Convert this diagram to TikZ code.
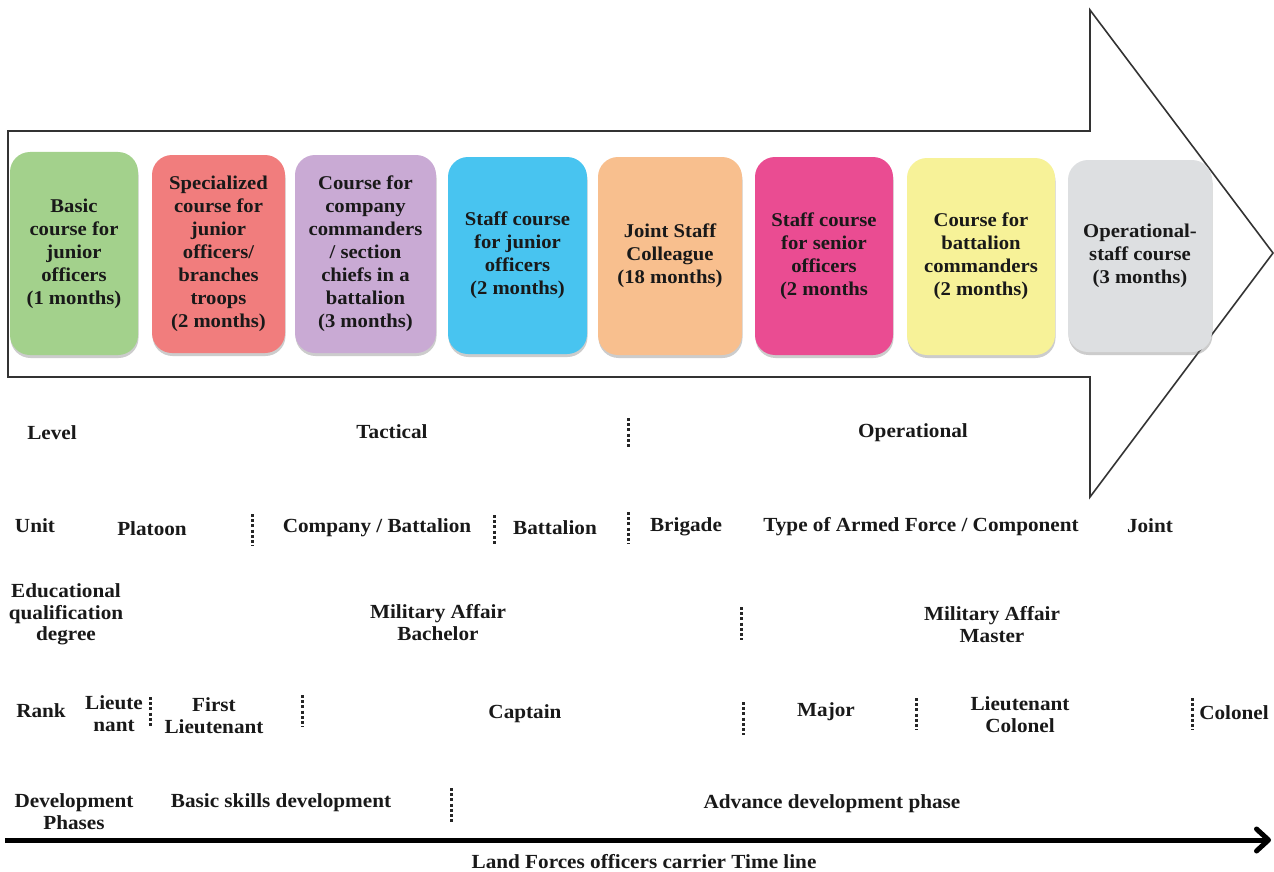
\documentclass[tikz,border=0pt]{standalone}
\usepackage{fontspec}
\setmainfont{Liberation Serif}
\newfontfamily\widefont[FakeStretch=1.06]{Liberation Serif}
\usetikzlibrary{arrows.meta,shadows}
\begin{document}
\begin{tikzpicture}[x=1pt,y=-1pt,
  coursebox/.style={rounded corners=20pt, inner sep=0pt, align=center,
    font=\widefont\bfseries\fontsize{19.5}{23}\selectfont, text=black!90,
    drop shadow={shadow xshift=0.5pt, shadow yshift=-3pt, opacity=0.4}},
  lbl/.style={inner sep=0pt, align=center, font=\widefont\bfseries\fontsize{20}{21.5}\selectfont, text=black!90},
  dotsep/.style={line width=3pt, dash pattern=on 3pt off 2.2pt, black!85},
  bigarrow/.style={draw=black!80, line width=1.6pt, fill=white, line join=miter}
]
\useasboundingbox (0,0) rectangle (1274,872);
\definecolor{cgreen}{RGB}{163,209,140}
\definecolor{cred}{RGB}{241,125,125}
\definecolor{cpurple}{RGB}{201,170,212}
\definecolor{cblue}{RGB}{72,196,240}
\definecolor{corange}{RGB}{248,191,142}
\definecolor{cpink}{RGB}{234,76,146}
\definecolor{cyellow}{RGB}{247,242,152}
\definecolor{cgray}{RGB}{221,223,225}

% big arrow
\draw[bigarrow] (8,131) -- (1090,131) -- (1090,10) -- (1273,253) -- (1090,497) -- (1090,377) -- (8,377) -- cycle;

% course boxes
\node[coursebox, fill=cgreen, minimum width=128pt, minimum height=203pt] (b1) at (74,253.5)
  {Basic\\course for\\junior\\officers\\(1 months)};
\node[coursebox, fill=cred, minimum width=133pt, minimum height=198pt] (b2) at (218.5,254)
  {Specialized\\course for\\junior\\officers/\\branches\\troops\\(2 months)};
\node[coursebox, fill=cpurple, minimum width=141pt, minimum height=198pt] (b3) at (365.5,254)
  {Course for\\company\\commanders\\/ section\\chiefs in a\\battalion\\(3 months)};
\node[coursebox, fill=cblue, minimum width=139pt, minimum height=197pt] (b4) at (517.5,255.5)
  {Staff course\\for junior\\officers\\(2 months)};
\node[coursebox, fill=corange, minimum width=144pt, minimum height=198pt] (b5) at (670,256)
  {Joint Staff\\Colleague\\(18 months)};
\node[coursebox, fill=cpink, minimum width=138pt, minimum height=198pt] (b6) at (824,256)
  {Staff course\\for senior\\officers\\(2 months};
\node[coursebox, fill=cyellow, minimum width=148pt, minimum height=197pt] (b7) at (981,256.5)
  {Course for\\battalion\\commanders\\(2 months)};
\node[coursebox, fill=cgray, minimum width=144pt, minimum height=192pt] (b8) at (1140,256)
  {Operational-\\staff course\\(3 months)};

% Level row
\node[lbl] (lev) at (52,433) {Level};
\node[lbl] (tac) at (392,432) {Tactical};
\node[lbl] (ope) at (913,433) {Operational};
\draw[dotsep] (628,418) -- (628,448);

% Unit row
\node[lbl] (unit) at (35,526) {Unit};
\node[lbl] (pla) at (152,529) {Platoon};
\node[lbl] (cob) at (377,528) {Company / Battalion};
\node[lbl] (bat) at (555,528) {Battalion};
\node[lbl] (bri) at (686,527) {Brigade};
\node[lbl] (typ) at (921,527) {Type of Armed Force / Component};
\node[lbl] (joi) at (1150,526) {Joint};
\draw[dotsep] (252,514) -- (252,546);
\draw[dotsep] (494,515) -- (494,546);
\draw[dotsep] (628,512) -- (628,544);

% Education row
\node[lbl] (edu) at (66,614.5) {Educational\\qualification\\degree};
\node[lbl] (mab) at (438,622.5) {Military Affair\\Bachelor};
\node[lbl] (mam) at (992,624.5) {Military Affair\\Master};
\draw[dotsep] (741,607) -- (741,640);

% Rank row
\node[lbl] (rank) at (41,711) {Rank};
\node[lbl] (lt) at (114,713.5) {Lieute\\nant};
\node[lbl] (flt) at (214,715.5) {First\\Lieutenant};
\node[lbl] (cap) at (525,714) {Captain};
\node[lbl] (maj) at (826,712) {Major};
\node[lbl] (ltc) at (1020,714.5) {Lieutenant\\Colonel};
\node[lbl] (col) at (1234,713) {Colonel};
\draw[dotsep] (150,697) -- (150,728);
\draw[dotsep] (302,695) -- (302,727);
\draw[dotsep] (743,702) -- (743,735);
\draw[dotsep] (916,698) -- (916,730);
\draw[dotsep] (1192,698) -- (1192,730);

% Development row
\node[lbl] (dev) at (74,811.5) {Development\\Phases};
\node[lbl] (bsd) at (281,803) {Basic skills development};
\node[lbl] (adp) at (832,804) {Advance development phase};
\draw[dotsep] (451,788) -- (451,822);

% time line
\coordinate (t0) at (5,840);
\coordinate (t1) at (1271,840);
\draw[line width=5pt, -{Straight Barb[length=12pt,width=22pt,round]}] (t0) -- (t1);
\node[lbl] (tl) at (644,862) {Land Forces officers carrier Time line};
\end{tikzpicture}
\end{document}
